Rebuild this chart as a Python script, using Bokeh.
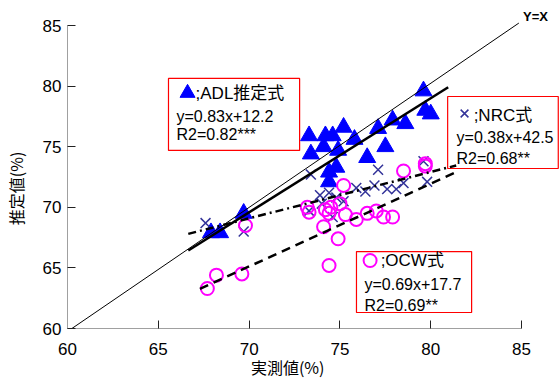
from bokeh.plotting import figure
from bokeh.models import Range1d, BoxAnnotation, Label
from bokeh.embed import file_html
from bokeh.resources import INLINE

# ---- data ----
adl_x = [67.9, 68.4, 69.7, 73.3, 74.2, 74.6, 75.2, 75.8, 73.4, 74.1, 74.9, 74.8, 74.4, 74.4,
         76.5, 77.1, 77.5, 77.9, 78.6, 79.6, 79.7, 80.0]
adl_y = [67.9, 67.9, 69.5, 75.9, 75.9, 75.9, 76.6, 75.6, 74.4, 75.0, 74.7, 73.3, 72.9, 72.1,
         74.1, 76.5, 75.0, 77.2, 76.9, 79.6, 78.0, 77.7]

nrc_x = [67.6, 69.7, 73.4, 73.3, 73.9, 74.4, 74.6, 74.8, 75.2, 75.9, 76.4, 77.1, 76.9, 77.6,
         78.1, 78.5, 79.6, 79.8, 74.0]
nrc_y = [68.7, 68.0, 72.7, 69.7, 71.0, 71.2, 69.2, 70.8, 70.5, 71.6, 71.3, 73.1, 71.8, 71.5,
         71.5, 72.0, 73.8, 72.1, 70.3]

ocw_x = [67.7, 68.2, 69.6, 69.8, 73.2, 73.3, 74.2, 74.5, 74.4, 75.0, 75.2, 75.3, 75.9, 76.5,
         77.0, 77.4, 77.9, 74.1, 74.9, 74.4, 78.5, 79.7, 79.7]
ocw_y = [63.3, 64.4, 64.5, 68.5, 70.0, 69.6, 69.8, 70.0, 69.5, 70.3, 71.8, 69.4, 69.0, 69.5,
         69.7, 69.2, 69.2, 68.4, 67.4, 65.2, 73.0, 73.6, 73.4]

# fitted lines as drawn in the picture (end points)
adl_fit_x = [66.65, 80.96]
adl_fit_y = [66.44, 79.91]
nrc_fit_x = [66.65, 81.4]
nrc_fit_y = [67.81, 73.45]
ocw_fit_x = [67.29, 81.4]
ocw_fit_y = [63.27, 72.9]
yx_x = [59.9, 84.85]
yx_y = [59.65, 85.2]

ticks = [60, 65, 70, 75, 80, 85]

adl_text = [";ADL推定式", "y=0.83x+12.2", "R2=0.82***"]
nrc_text = [";NRC式", "y=0.38x+42.5", "R2=0.68**"]
ocw_text = [";OCW式", "y=0.69x+17.7", "R2=0.69**"]

FONT = "Liberation Sans, Noto Sans CJK JP"
CJK = "Noto Sans CJK JP"
NB = "\u00a0"
IS = "\u3000"

# frame: x 66..559 px (60..85 over 455px), y 0..328 px (60..85 over 303px)
p = figure(width=559, height=383,
           x_range=Range1d(60, 60 + 493 / 18.2), y_range=Range1d(60, 60 + 328 / 12.12),
           output_backend="svg", toolbar_location=None,
           min_border_left=66, min_border_right=0, min_border_top=0, min_border_bottom=55)
p.outline_line_color = None
p.xgrid.visible = False
p.ygrid.visible = False

for ax in (p.xaxis, p.yaxis):
    ax.ticker = ticks
    ax.bounds = (60, 85)
    ax.minor_tick_line_color = None
    ax.major_tick_in = 8
    ax.major_tick_out = 0
    ax.major_tick_line_color = "#222222"
    ax.axis_line_color = "#A0A0A0"
    ax.major_label_text_font = "Liberation Sans"
    ax.major_label_text_font_size = "17px"
    ax.major_label_text_color = "black"
    ax.axis_label_text_font = CJK
    ax.axis_label_text_font_size = "16px"
    ax.axis_label_text_font_style = "normal"
    ax.axis_label_text_color = "black"

p.xaxis.axis_label = "実測値(%)" + IS * 3 + NB
p.yaxis.axis_label = "推定値(%)" + IS * 3
p.xaxis.major_label_standoff = 14
p.yaxis.major_label_standoff = 6
p.xaxis.axis_label_standoff = -3
p.yaxis.axis_label_standoff = 12

# legend boxes
boxes = [(65.56, 72.78, 80.63, 74.69), (80.93, 87.02, 79.14, 73.2), (75.91, 82.25, 66.35, 61.32)]
for l, r, t, b in boxes:
    p.add_layout(BoxAnnotation(left=l, right=r, top=t, bottom=b, fill_color="white", fill_alpha=1,
                               line_color="#FF0000", line_alpha=1, line_width=1.2, level="underlay"))

# data markers
p.scatter(adl_x, adl_y, marker="triangle", size=17, fill_color="#0000FF", line_color="#0000FF")
p.scatter(nrc_x, nrc_y, marker="x", size=14, line_color="#333399", line_width=1.5)
p.scatter(ocw_x, ocw_y, marker="circle", size=13, fill_color=None, line_color="#FF00FF", line_width=2)

# legend markers
p.scatter([66.61], [79.43], marker="triangle", size=15, fill_color="#0000FF", line_color="#0000FF")
p.scatter([81.86], [77.74], marker="x", size=11, line_color="#333399", line_width=1.5)
p.scatter([76.66], [65.61], marker="circle", size=13, fill_color=None, line_color="#FF00FF", line_width=2)

# lines
p.line(yx_x, yx_y, line_color="black", line_width=1)
p.line(adl_fit_x, adl_fit_y, line_color="black", line_width=2.5)
p.line(nrc_fit_x, nrc_fit_y, line_color="black", line_width=2.5, line_dash="8 4 2 4")
p.line(ocw_fit_x, ocw_fit_y, line_color="black", line_width=2.5, line_dash="9 6")

# legend texts
def add_texts(texts, x0, x1, ys):
    for i, (t, y) in enumerate(zip(texts, ys)):
        p.add_layout(Label(x=x0 if i == 0 else x1, y=y, text=t, text_font=FONT,
                           text_font_size="17px" if i == 0 else "16px",
                           text_baseline="middle", text_align="left", text_color="black"))

add_texts(adl_text, 67.05, 66.0, [79.39, 77.49, 76.0])
add_texts(nrc_text, 82.36, 81.42, [77.57, 75.76, 74.03])
add_texts(ocw_text, 77.24, 76.35, [65.61, 63.63, 61.9])

p.add_layout(Label(x=85.08, y=85.74, text="Y=X", text_font="Liberation Sans", text_font_size="13px",
                   text_font_style="bold", text_baseline="middle", text_align="left", text_color="black"))

open("out.html", "w").write(file_html(p, INLINE))
